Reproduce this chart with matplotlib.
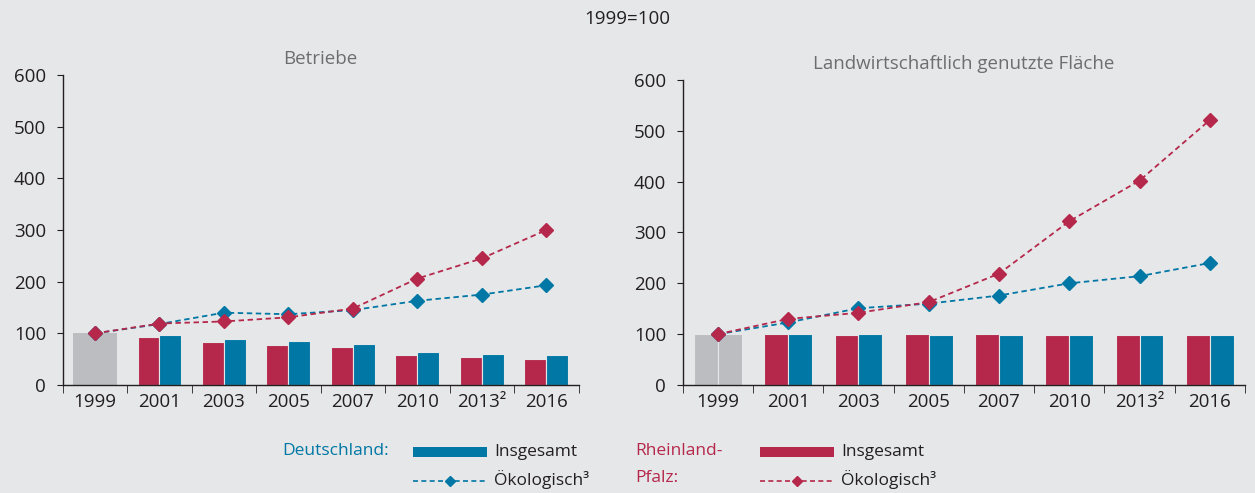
import matplotlib.pyplot as plt
import numpy as np
from matplotlib.lines import Line2D
from matplotlib.patches import Rectangle

years = ["1999", "2001", "2003", "2005", "2007", "2010", "2013²", "2016"]

# Betriebe (1999=100)
betr_rp = [100, 93, 83, 77, 73, 59, 54, 50]
betr_de = [100, 96, 90, 85, 79, 64, 61, 59]
betr_rp_oeko = [100, 119, 123, 131, 148, 206, 245, 300]
betr_de_oeko = [100, 118, 140, 137, 145, 163, 175, 193]

# Landwirtschaftlich genutzte Flaeche (1999=100)
lf_rp = [100, 100, 99, 101, 100, 99, 99, 98]
lf_de = [100, 100, 100, 99, 99, 98, 98, 98]
lf_rp_oeko = [100, 130, 142, 163, 219, 322, 402, 521]
lf_de_oeko = [100, 123, 151, 160, 176, 200, 214, 240]

RED = "#b5284b"
BLUE = "#0077a4"
GREY = "#bcbdc0"
BG = "#e6e7e9"
TXT = "#231f20"

plt.rcParams["font.family"] = ["Open Sans", "DejaVu Sans"]

fig = plt.figure(figsize=(12.55, 4.93), dpi=100, facecolor=BG)
ax1 = fig.add_axes([0.050, 0.219, 0.411, 0.629])
ax2 = fig.add_axes([0.544, 0.219, 0.448, 0.619])


def draw_panel(ax, rp, de, rp_oeko, de_oeko, title, split_first):
    ax.set_facecolor(BG)
    x = np.arange(len(years))
    w = 0.34
    if split_first:
        ax.bar(x[0] - w / 2, rp[0], w, color=GREY, edgecolor=BG, linewidth=0.8)
        ax.bar(x[0] + w / 2, de[0], w, color=GREY, edgecolor=BG, linewidth=0.8)
    else:
        ax.bar(x[0], rp[0], 2 * w, color=GREY, linewidth=0)
    ax.bar(x[1:] - w / 2, rp[1:], w, color=RED, edgecolor=BG, linewidth=0.8)
    ax.bar(x[1:] + w / 2, de[1:], w, color=BLUE, edgecolor=BG, linewidth=0.8)
    ax.plot(x, de_oeko, ls=(0, (3, 2)), lw=1.3, color=BLUE, marker="D", ms=7, zorder=3)
    ax.plot(x, rp_oeko, ls=(0, (3, 2)), lw=1.3, color=RED, marker="D", ms=7, zorder=4)

    ax.set_xlim(-0.5, len(years) - 0.5)
    ax.set_ylim(0, 600)
    ax.set_yticks(range(0, 601, 100))
    ax.set_xticks(x)
    ax.set_xticklabels(years)
    ax.set_xticks(np.arange(-0.5, len(years), 1), minor=True)
    ax.tick_params(axis="x", which="major", length=0, pad=6, labelsize=13.5, labelcolor=TXT)
    ax.tick_params(axis="x", which="minor", length=6, direction="out", color=TXT)
    ax.tick_params(axis="y", length=4, labelsize=13.5, labelcolor=TXT, color=TXT, pad=8)
    for s in ["top", "right"]:
        ax.spines[s].set_visible(False)
    for s in ["left", "bottom"]:
        ax.spines[s].set_color(TXT)
        ax.spines[s].set_linewidth(1)
    ax.set_title(title, color="#6d6e71", fontsize=13.5, pad=8)


draw_panel(ax1, betr_rp, betr_de, betr_rp_oeko, betr_de_oeko, "Betriebe", False)
draw_panel(ax2, lf_rp, lf_de, lf_rp_oeko, lf_de_oeko,
           "Landwirtschaftlich genutzte Fläche", True)

fig.text(0.5, 0.962, "1999=100", ha="center", va="center", fontsize=13.5, color=TXT)

# legend
W, H = 1255, 493


def fx(px):
    return px / W


def fy(py):
    return 1 - py / H


fig.text(fx(389), fy(451), "Deutschland:", ha="right", va="center", fontsize=12.5, color=BLUE)
fig.text(fx(635), fy(451), "Rheinland-", ha="left", va="center", fontsize=12.5, color=RED)
fig.text(fx(635), fy(478), "Pfalz:", ha="left", va="center", fontsize=12.5, color=RED)

for x0, col in [(413, BLUE), (760, RED)]:
    fig.add_artist(Rectangle((fx(x0), fy(457)), fx(74), 10 / H,
                             transform=fig.transFigure, color=col, lw=0))
    fig.add_artist(Line2D([fx(x0), fx(x0 + 74)], [fy(481), fy(481)],
                          transform=fig.transFigure, color=col, ls=(0, (3, 2)), lw=1.2))
    fig.add_artist(Line2D([fx(x0 + 37)], [fy(481)], transform=fig.transFigure,
                          color=col, marker="D", ms=5, lw=0))
    fig.text(fx(x0 + 81), fy(452), "Insgesamt", ha="left", va="center", fontsize=12.5, color=TXT)
    fig.text(fx(x0 + 81), fy(480), "Ökologisch³", ha="left", va="center", fontsize=12.5, color=TXT)

fig.savefig("out.png", dpi=100, facecolor=BG)
